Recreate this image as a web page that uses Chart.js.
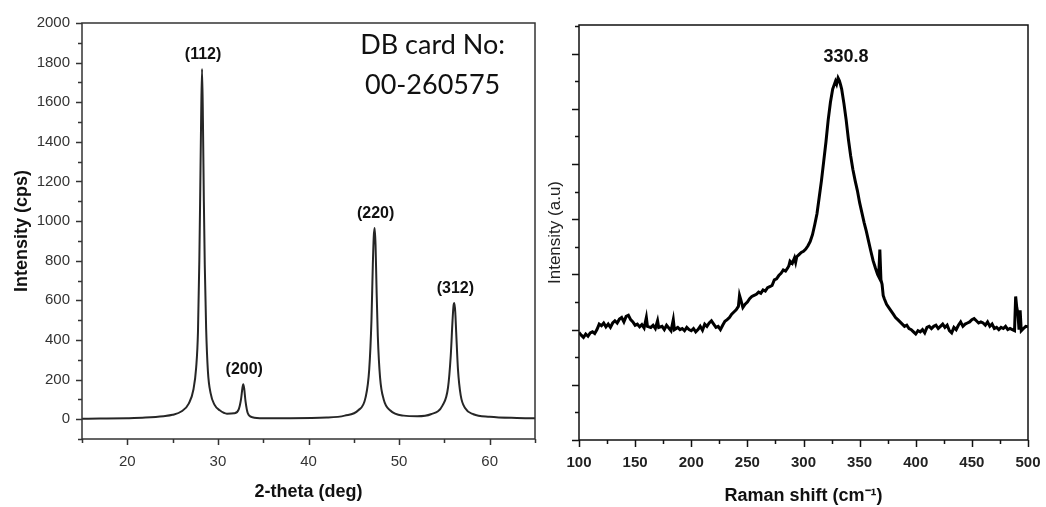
<!DOCTYPE html>
<html>
<head>
<meta charset="utf-8">
<title>XRD and Raman</title>
<script src="https://cdn.jsdelivr.net/npm/chart.js@4.4.1/dist/chart.umd.min.js"></script>
<style>
  html, body { margin: 0; padding: 0; background: #fff; }
  #wrap { position: relative; width: 1046px; height: 507px; }
  .panel { position: absolute; top: 0; height: 507px; }
  #xrd-panel { left: 0; width: 545px; }
  #raman-panel { left: 545px; width: 501px; }
</style>
</head>
<body>
<div id="wrap">
  <div class="panel" id="xrd-panel"><canvas id="xrd" width="545" height="507"></canvas></div>
  <div class="panel" id="raman-panel"><canvas id="raman" width="501" height="507"></canvas></div>
</div>
<script>
// XRD pattern (2-theta in degrees, intensity in cps)
const xrdAngle = [15, 17, 20, 22, 24, 25, 26, 26.8, 27.3, 27.6, 27.8, 27.95, 28.05, 28.15, 28.25,
  28.35, 28.45, 28.55, 28.7, 28.9, 29.2, 29.6, 30.2, 31, 31.8, 32.3, 32.55, 32.7, 32.8, 32.9,
  33.05, 33.3, 33.8, 35, 38, 42, 44, 45.5, 46.3, 46.7, 46.95, 47.1, 47.2, 47.3, 47.4, 47.5,
  47.65, 47.9, 48.3, 49, 50.5, 52, 53.5, 54.8, 55.4, 55.7, 55.9, 56.0, 56.1, 56.2, 56.3, 56.5,
  56.8, 57.3, 58.2, 60, 63, 65];
const xrdIntensity = [2, 3, 5, 8, 15, 22, 40, 80, 150, 260, 440, 800, 1150, 1520, 1768,
  1500, 1100, 780, 460, 240, 130, 75, 45, 28, 30, 50, 100, 155, 177, 155,
  90, 30, 10, 5, 5, 8, 18, 45, 110, 250, 500, 780, 920, 965, 880, 680,
  420, 210, 100, 45, 18, 15, 25, 70, 160, 320, 500, 570, 586, 540, 440, 250,
  120, 55, 25, 12, 6, 5];

// indexed reflections
const xrdPeakAngle = [28.25, 32.8, 47.3, 56.1];
const xrdPeakIntensity = [1768, 177, 965, 586];
const xrdPeakLabels = ['(112)', '(200)', '(220)', '(312)'];
const cardText = ['DB card No:', '00-260575'];

// Raman spectrum (shift in cm-1, intensity in arbitrary units)
const ramanShift = [100, 102, 104, 106, 108, 110, 112, 114, 116, 118, 120, 122, 124, 126, 128,
  130, 132, 134, 136, 138, 140, 142, 144, 146, 148, 150, 152, 154, 156, 158, 160, 161, 164, 166,
  168, 170, 171, 174, 176, 178, 180, 182, 184, 185, 188, 190, 192, 194, 196, 198, 200, 202, 204,
  206, 208, 210, 212, 214, 216, 218, 220, 222, 224, 226, 228, 230, 232, 234, 236, 238, 240, 242,
  243, 244, 246, 248, 250, 252, 254, 256, 258, 260, 262, 264, 266, 268, 270, 272, 274, 276, 278,
  280, 282, 284, 286, 287, 288, 290, 292, 293, 294, 296, 298, 300, 302, 304, 306, 308, 310, 312,
  314, 316, 318, 320, 322, 324, 326, 328.5, 329.5, 330.8, 332, 333, 334, 336, 338, 340, 342, 344,
  346, 348, 350, 352, 354, 356, 358, 360, 362, 364, 366, 367, 368, 369, 370, 371, 372, 374, 376,
  378, 380, 382, 384, 386, 388, 390, 392, 394, 396, 398, 400, 402, 404, 406, 408, 410, 412, 414,
  416, 418, 420, 422, 424, 426, 428, 430, 432, 434, 436, 438, 440, 442, 444, 446, 448, 450, 452,
  454, 456, 458, 460, 462, 464, 466, 468, 470, 472, 474, 476, 478, 480, 482, 484, 486, 488, 489,
  490, 491, 492, 493, 494, 496, 498, 500];
const ramanIntensity = [195, 190, 186, 192, 188, 194, 196, 193, 200, 210, 207, 212, 205, 210, 204,
  212, 216, 212, 219, 222, 214, 224, 226, 218, 214, 208, 210, 205, 209, 203, 222, 206, 204, 208,
  202, 216, 204, 206, 200, 208, 203, 198, 218, 200, 204, 200, 202, 198, 204, 200, 198, 202, 196,
  200, 206, 199, 210, 206, 212, 216, 210, 204, 206, 200, 208, 215, 218, 222, 228, 232, 236, 242,
  262, 255, 240, 246, 250, 256, 260, 262, 264, 268, 266, 272, 270, 276, 278, 280, 290, 292, 298,
  302, 308, 306, 312, 316, 324, 320, 330, 322, 332, 336, 340, 342, 346, 352, 360, 372, 390, 410,
  440, 470, 505, 540, 580, 612, 636, 650, 645, 656, 651, 644, 636, 610, 580, 545, 515, 490,
  470, 452, 430, 412, 394, 378, 360, 342, 325, 312, 300, 296, 345, 290, 282, 262, 256, 246, 240,
  234, 228, 222, 218, 214, 210, 206, 208, 202, 200, 196, 192, 198, 196, 200, 194, 204, 206, 202,
  206, 208, 202, 206, 210, 204, 208, 198, 194, 204, 200, 208, 214, 206, 210, 212, 214, 218, 220,
  216, 212, 214, 212, 208, 214, 206, 210, 202, 204, 200, 204, 202, 206, 200, 202, 200, 198, 260,
  240, 230, 200, 235, 198, 202, 206, 205];
const ramanPeakShift = 330.8;
const ramanPeakIntensity = 656;

Chart.defaults.font.family = '"Liberation Sans", Arial, sans-serif';
Chart.defaults.color = '#222';

function toXY(xs, ys) {
  return xs.map((x, i) => ({ x: x, y: ys[i] }));
}

// fixed axis box sizes so the plot areas line up with the page layout
function fixHeight(h) {
  return s => { s.height = h; s.paddingLeft = 0; s.paddingRight = 0; };
}
function fixWidth(w) {
  return s => { s.width = w; s.paddingTop = 0; s.paddingBottom = 0; };
}

// frame around the plot area plus outward major/minor tick marks
const frameTicks = {
  id: 'frameTicks',
  afterDraw(chart, args, opts) {
    const ctx = chart.ctx;
    const a = chart.chartArea;
    const xs = chart.scales.x;
    const ys = chart.scales.y;
    ctx.save();
    ctx.strokeStyle = opts.color;
    ctx.lineWidth = opts.width;
    ctx.strokeRect(a.left, a.top, a.right - a.left, a.bottom - a.top);
    ctx.beginPath();
    for (let v = Math.ceil(xs.min / opts.xMinor) * opts.xMinor; v <= xs.max; v += opts.xMinor) {
      const px = Math.round(xs.getPixelForValue(v)) + 0.5;
      const len = v % opts.xMajor === 0 ? opts.majorLen : opts.minorLen;
      ctx.moveTo(px, a.bottom);
      ctx.lineTo(px, a.bottom + len);
    }
    for (let v = Math.ceil(ys.min / opts.yMinor) * opts.yMinor; v <= ys.max; v += opts.yMinor) {
      const py = Math.round(ys.getPixelForValue(v)) + 0.5;
      const len = v % opts.yMajor === 0 ? opts.majorLen : opts.minorLen;
      ctx.moveTo(a.left, py);
      ctx.lineTo(a.left - len, py);
    }
    ctx.stroke();
    ctx.restore();
  }
};

// hkl labels over the XRD peaks and the reference card number
const xrdNotes = {
  id: 'xrdNotes',
  afterDatasetsDraw(chart) {
    const ctx = chart.ctx;
    const xs = chart.scales.x;
    const ys = chart.scales.y;
    ctx.save();
    ctx.fillStyle = '#111';
    ctx.textAlign = 'center';
    ctx.textBaseline = 'alphabetic';
    ctx.font = 'bold 16px "Liberation Sans", Arial, sans-serif';
    xrdPeakAngle.forEach((ang, i) => {
      const px = xs.getPixelForValue(ang);
      const py = ys.getPixelForValue(xrdPeakIntensity[i]);
      ctx.fillText(xrdPeakLabels[i], px + 1, py - 10);
    });
    ctx.font = '27px Lato, "Open Sans", sans-serif';
    ctx.fillText(cardText[0], xs.getPixelForValue(53.7), ys.getPixelForValue(1843));
    ctx.fillText(cardText[1], xs.getPixelForValue(53.7), ys.getPixelForValue(1641));
    ctx.restore();
  }
};

const ramanNotes = {
  id: 'ramanNotes',
  afterDatasetsDraw(chart) {
    const ctx = chart.ctx;
    const px = chart.scales.x.getPixelForValue(ramanPeakShift);
    const py = chart.scales.y.getPixelForValue(ramanPeakIntensity);
    ctx.save();
    ctx.fillStyle = '#111';
    ctx.textAlign = 'center';
    ctx.font = 'bold 18px "Liberation Sans", Arial, sans-serif';
    ctx.fillText(ramanPeakShift.toFixed(1), px + 8, py - 16);
    ctx.restore();
  }
};

// XRD chart
new Chart(document.getElementById('xrd'), {
  type: 'line',
  data: {
    datasets: [{
      data: toXY(xrdAngle, xrdIntensity),
      borderColor: '#262626',
      borderWidth: 2,
      pointRadius: 0,
      fill: false,
      cubicInterpolationMode: 'monotone'
    }]
  },
  options: {
    responsive: false,
    animation: false,
    layout: { padding: { top: 23, right: 10, left: 0, bottom: 0 } },
    plugins: {
      legend: { display: false },
      tooltip: { enabled: false },
      frameTicks: { color: '#333', width: 1.5, xMinor: 5, xMajor: 10, yMinor: 100, yMajor: 200, majorLen: 6, minorLen: 4 }
    },
    scales: {
      x: {
        type: 'linear',
        min: 15,
        max: 65,
        afterFit: fixHeight(68),
        grid: { display: false, drawTicks: false },
        border: { display: false },
        ticks: {
          stepSize: 5,
          padding: 14,
          color: '#333',
          font: { size: 15 },
          maxRotation: 0,
          autoSkip: false,
          callback: v => (v % 10 === 0 ? v : '')
        },
        title: {
          display: true,
          text: '2-theta (deg)',
          color: '#111',
          font: { size: 18, weight: 'bold' },
          padding: { top: 0, bottom: 4 }
        }
      },
      y: {
        min: -100,
        max: 2000,
        afterFit: fixWidth(82),
        grid: { display: false, drawTicks: false },
        border: { display: false },
        ticks: {
          stepSize: 100,
          padding: 12,
          color: '#333',
          font: { size: 15 },
          autoSkip: false,
          callback: v => (v >= 0 && v % 200 === 0 ? v : '')
        },
        title: {
          display: true,
          text: 'Intensity (cps)',
          color: '#111',
          font: { size: 18, weight: 'bold' },
          padding: { top: 11, bottom: 0 }
        }
      }
    }
  },
  plugins: [frameTicks, xrdNotes]
});

// Raman chart
new Chart(document.getElementById('raman'), {
  type: 'line',
  data: {
    datasets: [{
      data: toXY(ramanShift, ramanIntensity),
      borderColor: '#000',
      borderWidth: 3,
      pointRadius: 0,
      fill: false,
      tension: 0
    }]
  },
  options: {
    responsive: false,
    animation: false,
    layout: { padding: { top: 25, right: 18, left: 0, bottom: 0 } },
    plugins: {
      legend: { display: false },
      tooltip: { enabled: false },
      frameTicks: { color: '#111', width: 1.5, xMinor: 25, xMajor: 50, yMinor: 50, yMajor: 100, majorLen: 7, minorLen: 4 }
    },
    scales: {
      x: {
        type: 'linear',
        min: 100,
        max: 500,
        afterFit: fixHeight(67),
        grid: { display: false, drawTicks: false },
        border: { display: false },
        ticks: {
          stepSize: 25,
          padding: 14,
          color: '#222',
          font: { size: 15, weight: 'bold' },
          maxRotation: 0,
          autoSkip: false,
          callback: v => (v % 50 === 0 ? v : '')
        },
        title: {
          display: true,
          text: 'Raman shift (cm\u207B\u00B9)',
          color: '#111',
          font: { size: 18, weight: 'bold' },
          padding: { top: 0, bottom: 0 }
        }
      },
      y: {
        min: 0,
        max: 752,
        afterFit: fixWidth(34),
        grid: { display: false, drawTicks: false },
        border: { display: false },
        ticks: {
          stepSize: 50,
          autoSkip: false,
          callback: () => ''
        },
        title: {
          display: true,
          text: 'Intensity (a.u)',
          color: '#222',
          font: { size: 17 },
          padding: { top: 0, bottom: 0 }
        }
      }
    }
  },
  plugins: [frameTicks, ramanNotes]
});
</script>
</body>
</html>
